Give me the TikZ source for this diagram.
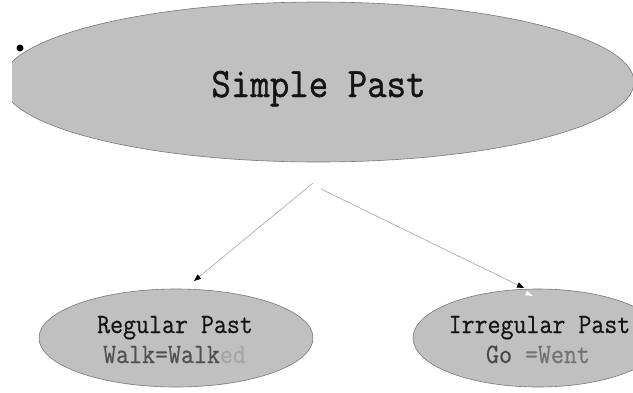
\documentclass[tikz,border=0pt]{standalone}
\usepackage{fontspec}
\usetikzlibrary{shapes.geometric,arrows.meta}

% narrow typewriter faces for the labels: a heavier one for the title
\newfontfamily\titlemono{Latin Modern Mono}[FakeStretch=0.9, FakeBold=1]
\newfontfamily\labelmono{Latin Modern Mono}[FakeStretch=0.9, FakeBold=0.5]

\definecolor{bubblefill}{RGB}{192,192,192}
\definecolor{bubbleedge}{RGB}{120,120,120}
\definecolor{linkgray}{RGB}{165,165,165}
\definecolor{inkdark}{RGB}{20,20,20}
\definecolor{inkmid}{RGB}{80,80,80}
\definecolor{inklight}{RGB}{165,165,165}
\definecolor{inkgo}{RGB}{70,70,70}
\definecolor{inkwent}{RGB}{115,115,115}

\tikzset{
  bubble/.style={ellipse, fill=bubblefill, draw=bubbleedge, line width=0.6pt, inner sep=0pt},
  bigtxt/.style={inner sep=0pt, text=inkdark, font=\fontsize{42}{42}\selectfont\titlemono},
  smalltxt/.style={inner sep=0pt, font=\fontsize{28}{28}\selectfont\labelmono},
  link/.style={draw=linkgray, line width=0.6pt, -{Triangle[length=7pt,width=5.5pt,color=black]}}
}

\begin{document}
\begin{tikzpicture}[x=1pt,y=-1pt]
  \useasboundingbox (0,0) rectangle (633,392);
  \clip (0,0) rectangle (633,392);

  % main topic bubble, cut off at its left end
  \begin{scope}
    \clip (12,0) rectangle (633,392);
    \node[bubble, minimum width=632pt, minimum height=160pt] (top) at (318,82) {};
  \end{scope}
  \node[bigtxt, anchor=base] (title) at (318.5,97) {Simple Past};

  % bullet mark
  \fill[black] (20,48) circle (3.5);

  % sub-topic bubbles
  \node[bubble, minimum width=274pt, minimum height=98pt] (reg) at (176,338) {};
  \node[bubble, minimum width=250pt, minimum height=98pt] (irr) at (538,338) {};

  \node[smalltxt, text=inkdark, anchor=base] (regA) at (175,333) {Regular Past};
  \node[smalltxt, anchor=base] (regB) at (174.5,363)
    {\textcolor{inkmid}{Walk=Walk}\textcolor{inklight}{ed}};

  \node[smalltxt, text=inkdark, anchor=base] (irrA) at (539.5,333) {Irregular Past};
  \node[smalltxt, anchor=base] (irrB) at (538,363)
    {\textcolor{inkgo}{Go }\textcolor{inkwent}{=Went}};

  % connectors
  \coordinate (s1) at (313,183);
  \coordinate (e1) at (194,281);
  \coordinate (s2) at (321,189);
  \coordinate (e2) at (524,288);
  \draw[link] (s1) -- (e1);
  \draw[link] (s2) -- (e2);

  % small white tip just inside the right bubble
  \fill[white] (533,296) -- (526.8,290.6) -- (525.2,295.4) -- cycle;
\end{tikzpicture}
\end{document}
